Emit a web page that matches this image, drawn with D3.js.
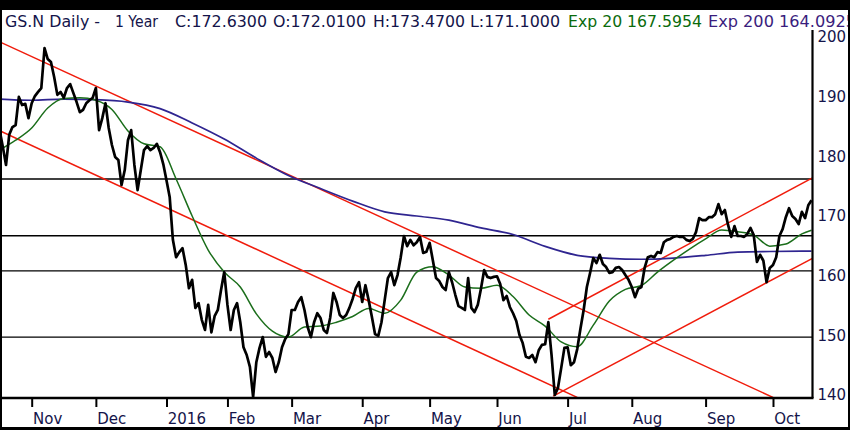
<!DOCTYPE html>
<html lang="en">
<head>
  <meta charset="UTF-8">
  <script src="https://d3js.org/d3.v7.min.js"></script>
  <style>
    body { margin: 0; background: #fff; }
    svg { display: block; font-family: 'DejaVu Sans', sans-serif; }
    .price { fill: none; stroke: #000; stroke-width: 2.7px; stroke-linejoin: round; }
    .ema20 { fill: none; stroke: #1b6e1b; stroke-width: 1.5px; }
    .ema200 { fill: none; stroke: #2f2590; stroke-width: 1.7px; }
    .trend { stroke: #f01c0c; stroke-width: 1.5px; }
    .level { stroke: #000; stroke-width: 1.4px; }
    .axis-text { font-size: 15px; fill: #14144a; }
    .title { font-size: 16px; }
  </style>
</head>
<body>
<script>
  // daily closes, one per trading day (19 Oct 2015 .. 19 Oct 2016)
  const closes = [
    184.4, 181.6, 178.55, 183.6, 184.9, 185.25, 189.95, 188.6, 188.8, 186.4,
    188.9, 190.1, 190.8, 191.45, 198.15, 196.3, 195.8, 193.3, 190.3, 190.8,
    189.8, 191.45, 192.1, 190.6, 189.1, 187.4, 187.8, 188.9, 189.4, 189.8,
    191.45, 184.4, 186.4, 188.9, 184.75, 181.9, 179.9, 179.4, 175.2, 177.7,
    182.7, 184.4, 178.55, 174.35, 177.7, 181.05, 181.7, 181.05, 181.4, 182.1,
    180.7, 178.7, 176.0, 173.2, 166.0, 163.1, 163.95, 164.6, 161.8, 157.9,
    159.3, 154.6, 155.4, 152.6, 150.9, 155.1, 150.5, 153.2, 154.25, 157.6,
    160.6, 155.1, 150.9, 154.25, 155.4, 152.2, 148.0, 146.7, 144.7, 139.7,
    145.5, 147.9, 149.7, 146.4, 147.2, 146.2, 143.85, 145.5, 148.0, 149.4,
    150.2, 154.25, 154.25, 155.6, 156.4, 154.25, 151.4, 149.7, 152.2, 153.7,
    152.9, 150.9, 150.4, 152.9, 157.1, 155.6, 153.4, 152.9, 153.4, 154.6,
    156.1, 157.9, 158.9, 155.6, 158.4, 155.9, 153.1, 150.2, 149.9, 152.2,
    155.9, 159.6, 160.6, 158.4, 160.1, 163.1, 166.65, 164.95, 166.0, 165.1,
    165.6, 166.5, 163.8, 164.0, 165.5, 162.6, 159.6, 159.1, 158.1, 157.6,
    160.6, 158.9, 156.8, 154.9, 154.6, 154.25, 159.6, 154.6, 153.9, 155.1,
    157.8, 160.95, 159.8, 159.6, 159.8, 159.9, 158.6, 155.9, 156.6, 154.75,
    153.7, 152.4, 150.05, 148.7, 146.4, 146.2, 146.7, 145.5, 147.5, 148.4,
    148.5, 152.2, 146.7, 140.0, 141.2, 144.5, 147.9, 148.0, 145.0, 145.5,
    147.7, 151.1, 154.25, 158.1, 160.45, 162.95, 162.1, 163.5, 161.95, 161.45,
    160.45, 160.6, 161.3, 161.45, 160.95, 160.1, 159.3, 158.1, 156.4, 157.8,
    158.1, 161.3, 163.1, 163.3, 163.1, 163.95, 163.8, 165.6, 166.0, 166.15,
    166.5, 166.65, 166.5, 166.5, 166.0, 165.8, 166.15, 167.3, 169.65, 169.3,
    169.3, 169.8, 169.8, 170.3, 172.0, 170.3, 171.0, 168.5, 166.5, 168.3,
    166.65, 166.65, 166.5, 167.0, 168.0, 166.8, 162.3, 163.5, 162.5, 158.9,
    161.3, 161.8, 163.1, 166.65, 167.8, 169.8, 171.3, 170.0, 169.5, 168.65,
    170.7, 169.65, 171.8, 172.63
  ];

  // Exp 20 every 5 trading days
  const ema20Days = [0, 5, 10, 15, 20, 25, 30, 35, 40, 45, 50, 55, 60, 65, 70, 75, 80, 85, 90, 95,
    100, 105, 110, 115, 120, 125, 130, 135, 140, 145, 150, 155, 160, 165, 170, 175, 180, 185, 190, 195,
    200, 205, 210, 215, 220, 225, 230, 235, 240, 245, 250, 253];
  const ema20Vals = [181.06, 182.7, 184.75, 188.1, 189.7, 189.8, 189.4, 187.85, 184.25, 182.1,
    181.6, 176.2, 170.0, 164.3, 160.6, 158.1, 153.6, 150.7, 149.7, 151.4,
    151.55, 152.2, 153.15, 154.5, 153.7, 155.9, 160.6, 161.5, 160.1, 158.1,
    157.9, 158.4, 156.5, 153.4, 151.55, 148.9, 148.1, 151.7, 155.75, 157.7,
    158.35, 160.6, 162.6, 164.45, 166.15, 167.65, 167.35, 166.8, 164.95, 165.3,
    167.0, 167.6];

  // Exp 200 every 10 trading days
  const ema200Days = [0, 10, 20, 30, 40, 50, 60, 70, 80, 90, 100, 110, 120, 130, 140, 150, 160,
    170, 180, 190, 200, 210, 220, 230, 240, 250, 253];
  const ema200Vals = [189.6, 189.4, 189.6, 189.5, 189.1, 188.0, 185.6, 182.9, 179.7, 176.8,
    174.6, 172.5, 170.7, 170.0, 169.3, 168.0, 166.9, 164.9, 163.4, 162.9,
    162.75, 162.95, 163.4, 163.95, 164.05, 164.1, 164.1];

  // horizontal support / resistance levels
  const levels = [176.2, 166.7, 160.8, 149.7];

  // trend channels: [startDay, startPrice, endDay, endPrice]
  const trendLines = [
    [0, 199.2, 241, 139.6],
    [0, 184.3, 180, 139.6],
    [172.5, 139.8, 253.3, 162.9],
    [171, 152.7, 253.3, 176.4]
  ];

  const monthIdx = [10, 30, 52, 71, 91, 113, 134, 155, 177, 197, 220, 241];
  const monthLabels = ["Nov", "Dec", "2016", "Feb", "Mar", "Apr", "May", "Jun", "Jul", "Aug", "Sep", "Oct"];
  const priceTicks = [140, 150, 160, 170, 180, 190, 200];

  const W = 850, H = 430;
  const plotRight = 812.5, plotTop = 30, plotBottom = 398;

  const svg = d3.select("body").append("svg")
    .attr("width", W)
    .attr("height", H);

  const x = d3.scaleLinear().domain([0, closes.length - 1]).range([-0.4, 811.5]);
  const y = d3.scaleLinear().domain([140, 200]).range([395, 37]);

  svg.append("rect").attr("width", W).attr("height", H).attr("fill", "#fff");

  svg.append("clipPath").attr("id", "plot")
    .append("rect")
    .attr("x", 0).attr("y", plotTop)
    .attr("width", plotRight).attr("height", plotBottom - plotTop);

  const plot = svg.append("g").attr("clip-path", "url(#plot)");

  plot.selectAll(".level")
    .data(levels)
    .enter().append("line")
    .attr("class", "level")
    .attr("x1", 0).attr("x2", plotRight)
    .attr("y1", d => y(d)).attr("y2", d => y(d));

  plot.selectAll(".trend")
    .data(trendLines)
    .enter().append("line")
    .attr("class", "trend")
    .attr("x1", d => x(d[0])).attr("y1", d => y(d[1]))
    .attr("x2", d => x(d[2])).attr("y2", d => y(d[3]));

  const smooth = d3.line()
    .x(d => x(d[0]))
    .y(d => y(d[1]))
    .curve(d3.curveMonotoneX);

  plot.append("path")
    .attr("class", "ema200")
    .attr("d", smooth(ema200Days.map((d, i) => [d, ema200Vals[i]])));

  plot.append("path")
    .attr("class", "ema20")
    .attr("d", smooth(ema20Days.map((d, i) => [d, ema20Vals[i]])));

  const priceLine = d3.line()
    .x((d, i) => x(i))
    .y(d => y(d));

  plot.append("path")
    .attr("class", "price")
    .attr("d", priceLine(closes));

  // bottom axis
  const xAxis = d3.axisBottom(x)
    .tickValues(monthIdx)
    .tickFormat((d, i) => monthLabels[i])
    .tickSize(9)
    .tickSizeOuter(0)
    .tickPadding(6);

  const gx = svg.append("g")
    .attr("transform", `translate(0,${plotBottom})`)
    .call(xAxis);
  gx.select(".domain").remove();
  gx.selectAll(".tick line").attr("stroke", "#000").attr("stroke-width", 2);
  gx.selectAll(".tick text")
    .attr("class", "axis-text")
    .attr("text-anchor", "start")
    .attr("x", 0.8)
    .style("font-family", "'DejaVu Sans', sans-serif")
    .style("font-size", "15px");

  // right axis
  const yAxis = d3.axisRight(y)
    .tickValues(priceTicks)
    .tickSize(0)
    .tickPadding(5);

  const gy = svg.append("g")
    .attr("transform", `translate(${plotRight},0)`)
    .call(yAxis);
  gy.select(".domain").remove();
  gy.selectAll(".tick text")
    .attr("class", "axis-text")
    .style("font-family", "'DejaVu Sans', sans-serif")
    .style("font-size", "15px");

  svg.append("line")
    .attr("x1", 0).attr("x2", plotRight + 1)
    .attr("y1", plotBottom).attr("y2", plotBottom)
    .attr("stroke", "#000").attr("stroke-width", 2.5);

  svg.append("line")
    .attr("x1", plotRight).attr("x2", plotRight)
    .attr("y1", plotTop).attr("y2", plotBottom)
    .attr("stroke", "#000").attr("stroke-width", 2.2);

  // title row
  const titleParts = [
    { t: "GS.N Daily -", x: 5, w: 95, c: "#14144a" },
    { t: "1 Year", x: 115, w: 43, c: "#14144a" },
    { t: "C:172.6300", x: 175, w: 92, c: "#14144a" },
    { t: "O:172.0100", x: 273, w: 93, c: "#14144a" },
    { t: "H:173.4700", x: 373, w: 92, c: "#14144a" },
    { t: "L:171.1000", x: 470, w: 90, c: "#14144a" },
    { t: "Exp 20 167.5954", x: 568, w: 134, c: "#0b6b0b" },
    { t: "Exp 200 164.0925", x: 708, w: 148, c: "#3a1d7d" }
  ];

  svg.selectAll(".title")
    .data(titleParts)
    .enter().append("text")
    .attr("class", "title")
    .attr("x", d => d.x)
    .attr("y", 26.7)
    .attr("fill", d => d.c)
    .attr("textLength", d => d.w)
    .attr("lengthAdjust", "spacingAndGlyphs")
    .text(d => d.t);

  // black frame
  svg.append("rect").attr("x", 0).attr("y", 0).attr("width", W).attr("height", 10).attr("fill", "#000");
  svg.append("rect").attr("x", 0).attr("y", 0).attr("width", 2).attr("height", H).attr("fill", "#000");
  svg.append("rect").attr("x", 0).attr("y", H - 3).attr("width", W).attr("height", 3).attr("fill", "#000");
  svg.append("rect").attr("x", W - 2).attr("y", 0).attr("width", 2).attr("height", H).attr("fill", "#000");
</script>
</body>
</html>
